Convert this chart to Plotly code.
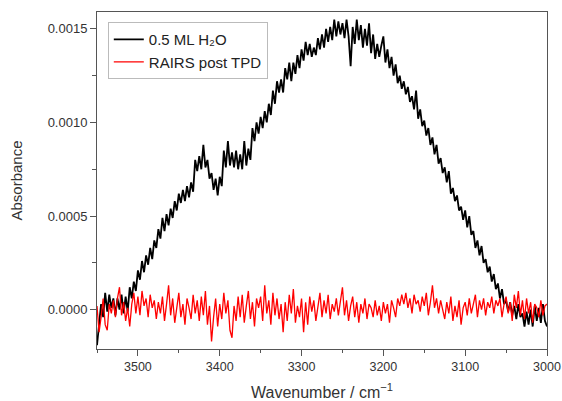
import plotly.graph_objects as go

wavenumber = [3550 - 2.5 * i for i in range(221)]

h2o_absorbance = [
    -0.00019, -0.00006, 0.00003, -0.00004, 0.00009, -0.00001, 0.00008, 0.00001, 0.00006, -0.00003,
    0.00006, 0.00000, 0.00008, -0.00002, 0.00007, -0.00001, 0.00012, 0.00006, 0.00015, 0.00010,
    0.00021, 0.00016, 0.00026, 0.00020, 0.00029, 0.00024, 0.00033, 0.00027, 0.00037, 0.00033,
    0.00043, 0.00038, 0.00049, 0.00042, 0.00051, 0.00045, 0.00054, 0.00049, 0.00058, 0.00053,
    0.00062, 0.00057, 0.00064, 0.00058, 0.00066, 0.00060, 0.00068, 0.00063, 0.00080, 0.00074,
    0.00082, 0.00075, 0.00088, 0.00076, 0.00080, 0.00070, 0.00073, 0.00064, 0.00070, 0.00061,
    0.00071, 0.00066, 0.00085, 0.00076, 0.00090, 0.00077, 0.00084, 0.00076, 0.00085, 0.00075,
    0.00083, 0.00075, 0.00090, 0.00077, 0.00086, 0.00080, 0.00097, 0.00090, 0.00100, 0.00094,
    0.00103, 0.00097, 0.00106, 0.00100, 0.00110, 0.00104, 0.00117, 0.00110, 0.00122, 0.00116,
    0.00123, 0.00116, 0.00129, 0.00123, 0.00132, 0.00122, 0.00132, 0.00126, 0.00136, 0.00129,
    0.00139, 0.00133, 0.00143, 0.00136, 0.00142, 0.00135, 0.00140, 0.00136, 0.00145, 0.00139,
    0.00147, 0.00140, 0.00150, 0.00143, 0.00151, 0.00144, 0.00155, 0.00146, 0.00154, 0.00147,
    0.00153, 0.00145, 0.00155, 0.00146, 0.00130, 0.00151, 0.00142, 0.00155, 0.00144, 0.00152,
    0.00140, 0.00150, 0.00141, 0.00153, 0.00137, 0.00147, 0.00134, 0.00142, 0.00135, 0.00141,
    0.00146, 0.00132, 0.00139, 0.00129, 0.00135, 0.00125, 0.00131, 0.00121, 0.00125, 0.00118,
    0.00122, 0.00115, 0.00119, 0.00111, 0.00114, 0.00107, 0.00117, 0.00102, 0.00107, 0.00098,
    0.00101, 0.00093, 0.00097, 0.00088, 0.00092, 0.00083, 0.00088, 0.00078, 0.00081, 0.00073,
    0.00076, 0.00068, 0.00074, 0.00062, 0.00065, 0.00058, 0.00061, 0.00053, 0.00055, 0.00048,
    0.00053, 0.00044, 0.00050, 0.00040, 0.00042, 0.00033, 0.00037, 0.00029, 0.00034, 0.00025,
    0.00027, 0.00020, 0.00023, 0.00015, 0.00019, 0.00011, 0.00014, 0.00006, 0.00011, 0.00003,
    0.00005, -0.00001, 0.00004, -0.00003, 0.00002, -0.00005, 0.00003, -0.00004, -0.00002, -0.00009,
    -0.00001, -0.00008, 0.00000, -0.00009, 0.00002, -0.00006, 0.00001, -0.00007, 0.00003, -0.00006,
    -0.00009,
]

post_tpd_absorbance = [
    0.00002, -0.00012, -0.00004, 0.00006, -0.00008, -0.00011, 0.00003, -0.00002, 0.00005, -0.00004,
    0.00006, 0.00012, -0.00003, 0.00004, -0.00006, 0.00001, -0.00009, 0.00003, 0.00009, -0.00002,
    0.00007, -0.00003, 0.00010, 0.00002, 0.00006, -0.00004, 0.00008, 0.00001, 0.00005, -0.00005,
    0.00004, -0.00002, 0.00007, -0.00006, 0.00003, 0.00013, -0.00003, 0.00006, -0.00007, 0.00002,
    0.00009, -0.00004, 0.00003, -0.00008, 0.00006, 0.00001, -0.00005, 0.00008, -0.00002, 0.00005,
    -0.00006, 0.00007, -0.00003, 0.00010, -0.00008, 0.00002, -0.00017, -0.00004, 0.00006, -0.00009,
    0.00003, -0.00005, 0.00009, -0.00002, 0.00005, -0.00011, -0.00015, 0.00002, -0.00006, 0.00007,
    -0.00004, 0.00008, -0.00007, 0.00002, 0.00010, -0.00005, 0.00004, -0.00009, 0.00006, 0.00001,
    0.00007, -0.00006, 0.00013, -0.00002, 0.00005, -0.00008, 0.00009, -0.00003, 0.00006, -0.00005,
    0.00003, -0.00012, 0.00004, -0.00006, 0.00008, -0.00002, 0.00011, -0.00007, 0.00002, -0.00004,
    0.00006, -0.00012, 0.00004, -0.00008, 0.00007, -0.00001, 0.00005, -0.00006, 0.00003, 0.00009,
    -0.00004, 0.00005, -0.00002, 0.00008, -0.00005, 0.00003, -0.00001, 0.00006, -0.00003, 0.00004,
    0.00012, -0.00003, 0.00005, -0.00006, 0.00002, 0.00007, -0.00004, 0.00004, -0.00007, 0.00003,
    -0.00002, 0.00006, -0.00005, 0.00003, 0.00001, -0.00004, 0.00005, -0.00003, 0.00002, -0.00006,
    0.00004, -0.00002, 0.00003, -0.00007, 0.00005, 0.00001, -0.00004, 0.00006, 0.00002, 0.00008,
    0.00003, 0.00009, 0.00001, 0.00006, -0.00002, 0.00008, 0.00003, 0.00005, -0.00001, 0.00007,
    0.00002, 0.00009, -0.00003, 0.00004, 0.00013, 0.00001, 0.00006, -0.00002, 0.00005, 0.00000,
    -0.00005, 0.00004, -0.00002, 0.00007, -0.00006, 0.00002, -0.00004, 0.00005, -0.00008, 0.00001,
    0.00004, -0.00003, 0.00006, -0.00002, 0.00003, 0.00008, -0.00004, 0.00005, 0.00000, 0.00006,
    -0.00003, 0.00004, 0.00001, 0.00007, -0.00002, 0.00005, 0.00002, 0.00006, -0.00004, 0.00003,
    0.00007, -0.00002, 0.00004, -0.00006, 0.00008, 0.00001, 0.00010, -0.00003, 0.00005, -0.00005,
    0.00006, -0.00002, 0.00004, -0.00007, 0.00003, 0.00001, -0.00004, 0.00005, -0.00003, 0.00002,
    0.00003,
]

series_names = ["0.5 ML H₂O", "RAIRS post TPD"]
y_tick_values = [0.0, 0.0005, 0.0010, 0.0015]
y_tick_labels = ["0.0000", "0.0005", "0.0010", "0.0015"]
x_tick_values = [3500, 3400, 3300, 3200, 3100, 3000]
x_tick_labels = ["3500", "3400", "3300", "3200", "3100", "3000"]

FONT = "Liberation Sans, Arial, sans-serif"

fig = go.Figure()
fig.add_trace(go.Scatter(x=wavenumber, y=h2o_absorbance, mode="lines",
                         name=series_names[0], line=dict(color="black", width=1.8)))
fig.add_trace(go.Scatter(x=wavenumber, y=post_tpd_absorbance, mode="lines",
                         name=series_names[1], line=dict(color="#ff0000", width=1.3)))

axis_common = dict(showline=True, linecolor="#555555", linewidth=1, mirror=True,
                   showgrid=False, zeroline=False, ticks="outside", ticklen=6,
                   tickcolor="#555555", automargin=False)

fig.update_xaxes(range=[3550, 3000], tickvals=x_tick_values, ticktext=x_tick_labels,
                 tickfont=dict(family=FONT, size=12.5, color="#333333"),
                 ticklabeloverflow="allow",
                 minor=dict(ticks="outside", ticklen=3, dtick=50, tick0=3000, tickcolor="#555555"),
                 title=dict(text="Wavenumber / cm<sup>−1</sup>",
                            font=dict(family=FONT, size=16, color="#333333"), standoff=17),
                 **axis_common)
fig.update_yaxes(range=[-0.00021, 0.00159], tickvals=y_tick_values, ticktext=y_tick_labels,
                 tickfont=dict(family=FONT, size=13, color="#333333"),
                 minor=dict(ticks="outside", ticklen=4, dtick=0.00025, tick0=0, tickcolor="#555555"),
                 title=dict(text="Absorbance", font=dict(family=FONT, size=15, color="#333333"),
                            standoff=21),
                 **axis_common)

fig.update_layout(
    width=562, height=401,
    margin=dict(l=97, r=15, t=12, b=52),
    plot_bgcolor="white", paper_bgcolor="white",
    font=dict(family=FONT, color="#222222"),
    legend=dict(x=0.024, y=0.97, xanchor="left", yanchor="top",
                bgcolor="white", bordercolor="#bbbbbb", borderwidth=1,
                font=dict(family=FONT, size=15, color="#222222"),
                tracegroupgap=0, itemwidth=30),
)

fig.write_html("out.html", config={"displayModeBar": False},
               post_script="document.body.style.margin='0';document.body.style.overflow='hidden';")
